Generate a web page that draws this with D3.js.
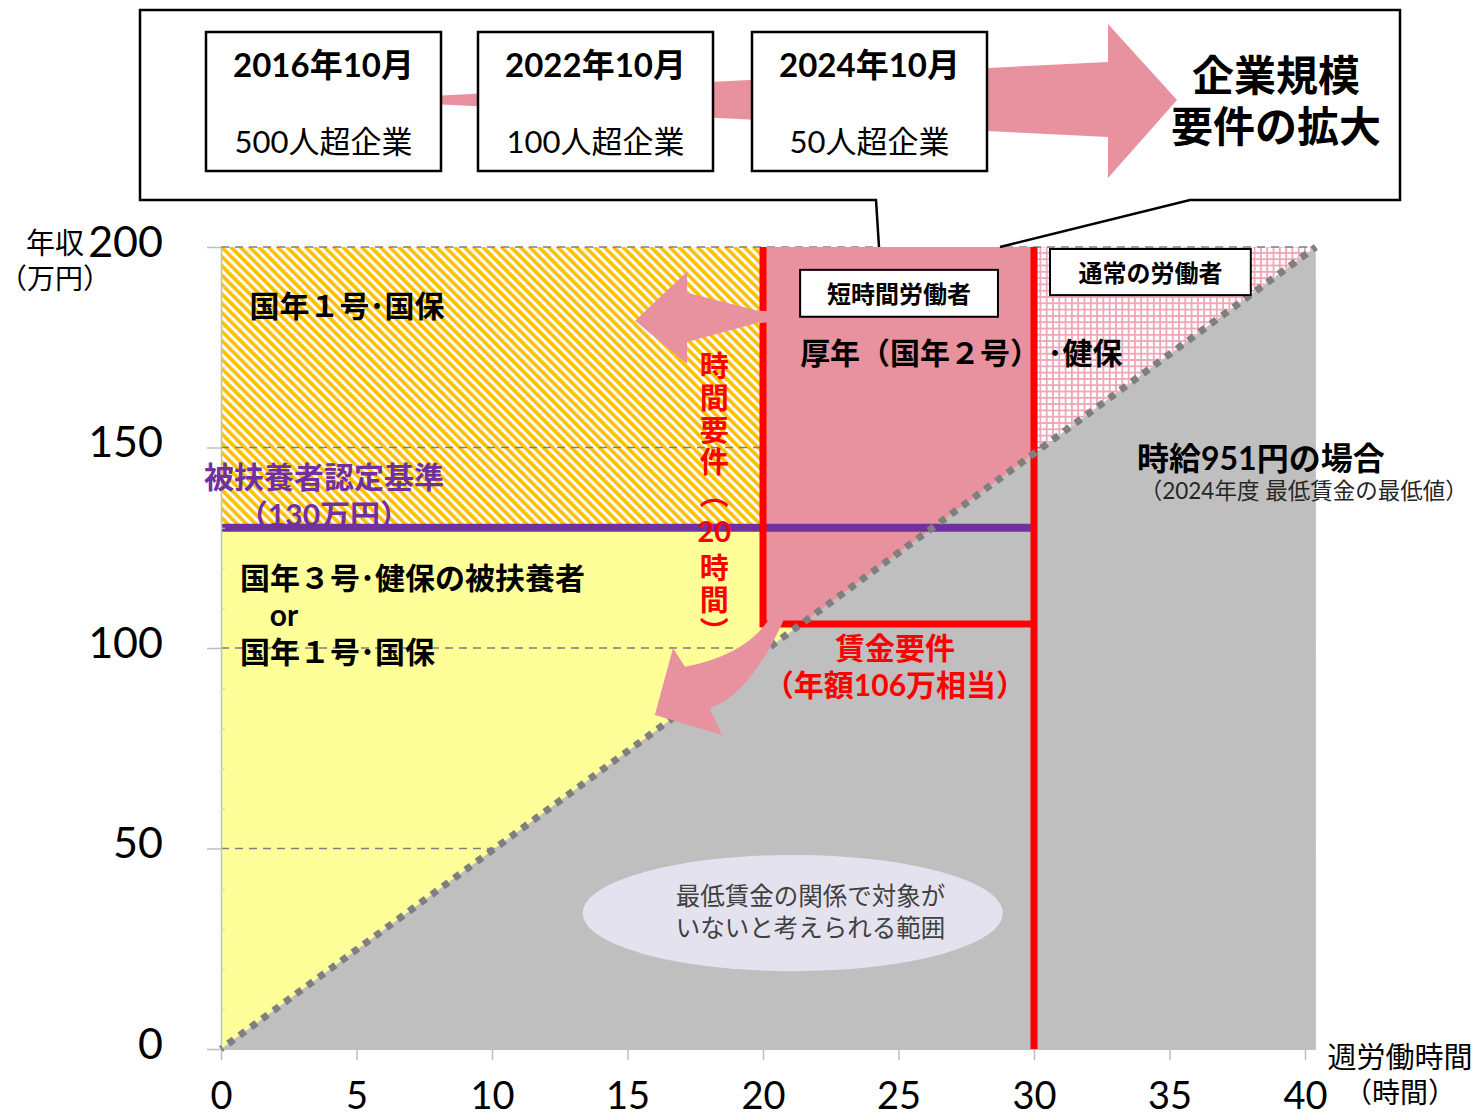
<!DOCTYPE html>
<html lang="ja">
<head>
<meta charset="utf-8">
<script src="https://cdn.jsdelivr.net/npm/d3@7"></script>
<style>
  html, body { margin: 0; padding: 0; background: #fff; }
  svg { display: block; font-family: Lato, "Noto Sans CJK JP", "Noto Sans", sans-serif; }
  .vertical { writing-mode: vertical-rl; text-orientation: upright; font-family: "Noto Sans CJK JP", sans-serif; }
</style>
</head>
<body>
<svg id="chart" width="1480" height="1118"></svg>
<script>
// ---- axis ticks ----
const hourTicks = [0, 5, 10, 15, 20, 25, 30, 35, 40];
const incomeTicks = [0, 50, 100, 150, 200];
const incomeMinorTicks = [10, 20, 30, 40, 60, 70, 80, 90, 110, 120, 130, 140, 160, 170, 180, 190];

// ---- thresholds (hours per week / 万円 per year) ----
const hoursRequirement = 20;     // 時間要件（20時間）
const normalWorkerHours = 30;    // 通常の労働者
const wageRequirement = 106;     // 賃金要件（年額106万相当）
const dependentLimit = 130;      // 被扶養者認定基準（130万円）
const incomeMax = 200;

// ---- minimum-wage line: 時給951円 ----
const wageLineHours = [0, 40.4];
const wageLineIncome = [0, 200];

// ---- company-size expansion timeline ----
const expansionDates = ["2016年10月", "2022年10月", "2024年10月"];
const expansionScopes = ["500人超企業", "100人超企業", "50人超企業"];

const svg = d3.select("#chart");
const x = d3.scaleLinear().domain([0, 40]).range([221, 1305]);
const y = d3.scaleLinear().domain([0, 200]).range([1049, 247]);
const hMax = wageLineHours[1];

const PINK = "#E8929F", GRAY = "#BFBFBF", YELLOW = "#FFFF99", ORANGE = "#FFC000",
      PURPLE = "#7030A0", RED = "#FF0000";

// ---- patterns ----
const defs = svg.append("defs");
const hatch = defs.append("pattern").attr("id", "hatch")
  .attr("patternUnits", "userSpaceOnUse").attr("width", 6.6).attr("height", 6.6)
  .attr("patternTransform", "rotate(-45)");
hatch.append("rect").attr("width", 6.6).attr("height", 6.6).attr("fill", "#fff");
hatch.append("rect").attr("width", 3.6).attr("height", 6.6).attr("fill", ORANGE);

const grid = defs.append("pattern").attr("id", "grid")
  .attr("patternUnits", "userSpaceOnUse").attr("width", 6.3).attr("height", 6.3);
grid.append("rect").attr("width", 6.3).attr("height", 6.3).attr("fill", "#fff");
grid.append("path").attr("d", "M0,0.9H6.3M0.9,0V6.3")
  .attr("stroke", "#EFA6B6").attr("stroke-width", 1.8);

const poly = pts => "M" + pts.map(([h, v]) => [x(h), y(v)].join(",")).join("L") + "Z";

// ---- regions ----
const plot = svg.append("g");
// 通常の労働者 area (above the wage line)
plot.append("path").attr("d", poly([[0, 0], [0, incomeMax], [hMax, incomeMax]])).attr("fill", "url(#grid)");
// 国年3号・健保の被扶養者 area
plot.append("path").attr("d", poly([[0, 0], [0, dependentLimit], [normalWorkerHours, dependentLimit], [normalWorkerHours, 0]]))
  .attr("fill", YELLOW);
// 国年1号・国保 area above 130万円
plot.append("path").attr("d", poly([[0, dependentLimit], [0, incomeMax], [hoursRequirement, incomeMax], [hoursRequirement, dependentLimit]]))
  .attr("fill", "url(#hatch)");

// dashed gridlines
plot.selectAll("line.grid").data(incomeTicks.filter(d => d > 0)).join("line")
  .attr("class", "grid")
  .attr("x1", x(0)).attr("x2", x(hMax))
  .attr("y1", d => y(d)).attr("y2", d => y(d))
  .attr("stroke", "#7F7F7F").attr("stroke-width", 1.6).attr("stroke-dasharray", "8,6");

// 短時間労働者 area
plot.append("path").attr("d", poly([[hoursRequirement, wageRequirement], [hoursRequirement, incomeMax], [normalWorkerHours, incomeMax], [normalWorkerHours, wageRequirement]]))
  .attr("fill", PINK);
// below the minimum-wage line
plot.append("path").attr("d", poly([[wageLineHours[0], wageLineIncome[0]], [wageLineHours[1], wageLineIncome[1]], [wageLineHours[1], 0]]))
  .attr("fill", GRAY);

// ---- axes ----
const yAxis = svg.append("g").attr("transform", `translate(${x(0)},0)`)
  .call(d3.axisLeft(y).tickValues(incomeTicks).tickSize(14).tickSizeOuter(0).tickPadding(44));
yAxis.select(".domain").attr("stroke", GRAY).attr("stroke-width", 1.5);
yAxis.selectAll(".tick line").attr("stroke", GRAY).attr("stroke-width", 1.5);
yAxis.selectAll(".tick text").attr("font-size", 43).attr("fill", "#000").attr("dy", "0.22em")
  .attr("font-family", "Lato, sans-serif");

const yMinor = svg.append("g").attr("transform", `translate(${x(0)},0)`)
  .call(d3.axisRight(y).tickValues(incomeMinorTicks).tickSize(4).tickSizeOuter(0).tickFormat(""));
yMinor.select(".domain").remove();
yMinor.selectAll(".tick line").attr("stroke", "#D0D0D0").attr("stroke-width", 1);

const xAxis = svg.append("g").attr("transform", `translate(0,${y(0)})`)
  .call(d3.axisBottom(x).tickValues(hourTicks).tickSize(11).tickSizeOuter(0).tickPadding(0));
xAxis.select(".domain").attr("d", `M${x(0)},0H${x(hMax)}`).attr("stroke", GRAY).attr("stroke-width", 2);
xAxis.selectAll(".tick line").attr("stroke", GRAY).attr("stroke-width", 1.5);
xAxis.selectAll(".tick text").attr("font-size", 38).attr("fill", "#000")
  .attr("y", 1109 - y(0)).attr("dy", null)
  .attr("font-family", "Lato, sans-serif");

// axis titles
svg.append("text").attr("x", 55).attr("y", 242).attr("text-anchor", "middle").attr("dominant-baseline", "central")
  .attr("font-size", 29).text("年収");
svg.append("text").attr("x", 55).attr("y", 278).attr("text-anchor", "middle").attr("dominant-baseline", "central")
  .attr("font-size", 28).text("（万円）");
svg.append("text").attr("x", 1400).attr("y", 1056).attr("text-anchor", "middle").attr("dominant-baseline", "central")
  .attr("font-size", 29).text("週労働時間");
svg.append("text").attr("x", 1400).attr("y", 1092).attr("text-anchor", "middle").attr("dominant-baseline", "central")
  .attr("font-size", 28).text("（時間）");

// ---- threshold lines ----
plot.append("line")
  .attr("x1", x(0)).attr("x2", x(normalWorkerHours))
  .attr("y1", y(dependentLimit)).attr("y2", y(dependentLimit))
  .attr("stroke", PURPLE).attr("stroke-width", 8);
const redG = svg.append("g").attr("stroke", RED).attr("stroke-width", 7).attr("fill", "none");
redG.append("path")
  .attr("d", `M${x(hoursRequirement)},${y(incomeMax)}V${y(wageRequirement)}H${x(normalWorkerHours)}`)
  .attr("stroke-linejoin", "miter");
redG.append("line")
  .attr("x1", x(normalWorkerHours)).attr("x2", x(normalWorkerHours))
  .attr("y1", y(incomeMax)).attr("y2", y(0));

// minimum-wage dotted line
svg.append("line")
  .attr("x1", x(wageLineHours[0])).attr("y1", y(wageLineIncome[0]))
  .attr("x2", x(wageLineHours[1])).attr("y2", y(wageLineIncome[1]))
  .attr("stroke", "#7F7F7F").attr("stroke-width", 7).attr("stroke-dasharray", "7,7")
  .attr("stroke-dashoffset", -9);

// ---- arrows inside the chart (in hours / 万円) ----
// 時間要件 → left
svg.append("path").attr("fill", PINK).attr("d", poly([
  [15.28, 181.6], [17.2, 193.9], [17.2, 188.6], [19.75, 184.2], [20.5, 183.8],
  [20.5, 181.3], [19.75, 181.0], [17.2, 176.3], [17.2, 170.8]
]));
// 賃金要件 → down-left (curved)
{
  const P = (h, v) => `${x(h)},${y(v)}`;
  svg.append("path").attr("fill", PINK).attr("d",
    `M${P(20.89, 108.9)}Q${P(19.59, 88.5)} ${P(18.04, 85.0)}L${P(18.49, 78.3)}L${P(16.01, 83.3)}` +
    `L${P(16.68, 100.0)}L${P(17.12, 95.3)}Q${P(19.56, 98.5)} ${P(20.37, 108.9)}Z`);
}

// ---- chart annotations ----
const T = (h, v, txt, o = {}) => svg.append("text")
  .attr("x", x(h)).attr("y", y(v))
  .attr("text-anchor", o.anchor || "start").attr("dominant-baseline", "central")
  .attr("font-size", o.size || 29).attr("font-weight", o.weight || 700)
  .attr("fill", o.fill || "#000").text(txt);

T(1.05, 185.5, "国年１号･国保", { size: 30 });
T(3.8, 142.8, "被扶養者認定基準", { size: 30, anchor: "middle", fill: PURPLE });
T(3.8, 133.5, "（130万円）", { size: 30, anchor: "middle", fill: PURPLE });
T(0.7, 117.7, "国年３号･健保の被扶養者", { size: 30 });
T(1.8, 108.4, "or", { size: 30 });
T(0.7, 99.2, "国年１号･国保", { size: 30 });

// 時間要件（20時間） written vertically, with "20" set upright across the column
const vText = (v, txt) => svg.append("text").attr("class", "vertical")
  .attr("x", x(18.2)).attr("y", y(v))
  .attr("font-size", 29).attr("font-weight", 700).attr("fill", RED)
  .attr("letter-spacing", 3).text(txt);
vText(174.0, "時間要件（");
T(18.2, 129.4, "20", { size: 29, anchor: "middle", fill: RED });
vText(123.6, "時間）");

// labelled boxes
const box = (h0, v0, h1, v1, label) => {
  svg.append("rect").attr("x", x(h0)).attr("y", y(v0)).attr("width", x(h1) - x(h0)).attr("height", y(v1) - y(v0))
    .attr("fill", "#fff").attr("stroke", "#000").attr("stroke-width", 2);
  T((h0 + h1) / 2, (v0 + v1) / 2, label, { size: 24, anchor: "middle" });
};
box(21.37, 194.3, 28.67, 182.6, "短時間労働者");
box(30.59, 199.5, 38.0, 188.0, "通常の労働者");

T(21.37, 173.8, "厚年（国年２号）", { size: 30 });
T(30.5, 173.8, "･健保", { size: 30 });

T(33.8, 147.6, "時給951円の場合", { size: 32 });
T(33.9, 139.4, "（2024年度 最低賃金の最低値）", { size: 22.5, weight: 400, fill: "#262626" });

T(24.87, 100.2, "賃金要件", { size: 30, anchor: "middle", fill: RED });
T(24.87, 91.0, "（年額106万相当）", { size: 30, anchor: "middle", fill: RED });

// area where no one is expected because of the minimum wage
svg.append("ellipse").attr("cx", x(21.1)).attr("cy", y(33.9))
  .attr("rx", x(7.75) - x(0)).attr("ry", y(0) - y(14.5)).attr("fill", "#E3E2EE");
T(21.75, 38.4, "最低賃金の関係で対象が", { size: 24.5, weight: 400, anchor: "middle", fill: "#404040" });
T(21.75, 30.4, "いないと考えられる範囲", { size: 24.5, weight: 400, anchor: "middle", fill: "#404040" });

// ---- callout: company-size expansion ----
const callout = svg.append("g");
callout.append("path")
  .attr("d", "M879,247L876,200L140,200L140,10L1400,10L1400,200L1190,200L1000,247")
  .attr("fill", "#fff").attr("stroke", "#000").attr("stroke-width", 2.5);
callout.append("path").attr("fill", PINK)
  .attr("d", "M441,95.5L1108,62L1108,24L1177,100L1108,178L1108,137L441,104.5Z");
const boxX = [206, 478, 752];
expansionDates.forEach((d, i) => {
  callout.append("rect").attr("x", boxX[i]).attr("y", 32).attr("width", 235).attr("height", 139)
    .attr("fill", "#fff").attr("stroke", "#000").attr("stroke-width", 2.5);
  callout.append("text").attr("x", boxX[i] + 117.5).attr("y", 64).attr("text-anchor", "middle")
    .attr("dominant-baseline", "central").attr("font-size", 33).attr("font-weight", 700).text(d);
  callout.append("text").attr("x", boxX[i] + 117.5).attr("y", 141).attr("text-anchor", "middle")
    .attr("dominant-baseline", "central").attr("font-size", 31).text(expansionScopes[i]);
});
callout.append("text").attr("x", 1276).attr("y", 75).attr("text-anchor", "middle").attr("dominant-baseline", "central")
  .attr("font-size", 42).attr("font-weight", 700).text("企業規模");
callout.append("text").attr("x", 1276).attr("y", 126).attr("text-anchor", "middle").attr("dominant-baseline", "central")
  .attr("font-size", 42).attr("font-weight", 700).text("要件の拡大");
</script>
</body>
</html>
